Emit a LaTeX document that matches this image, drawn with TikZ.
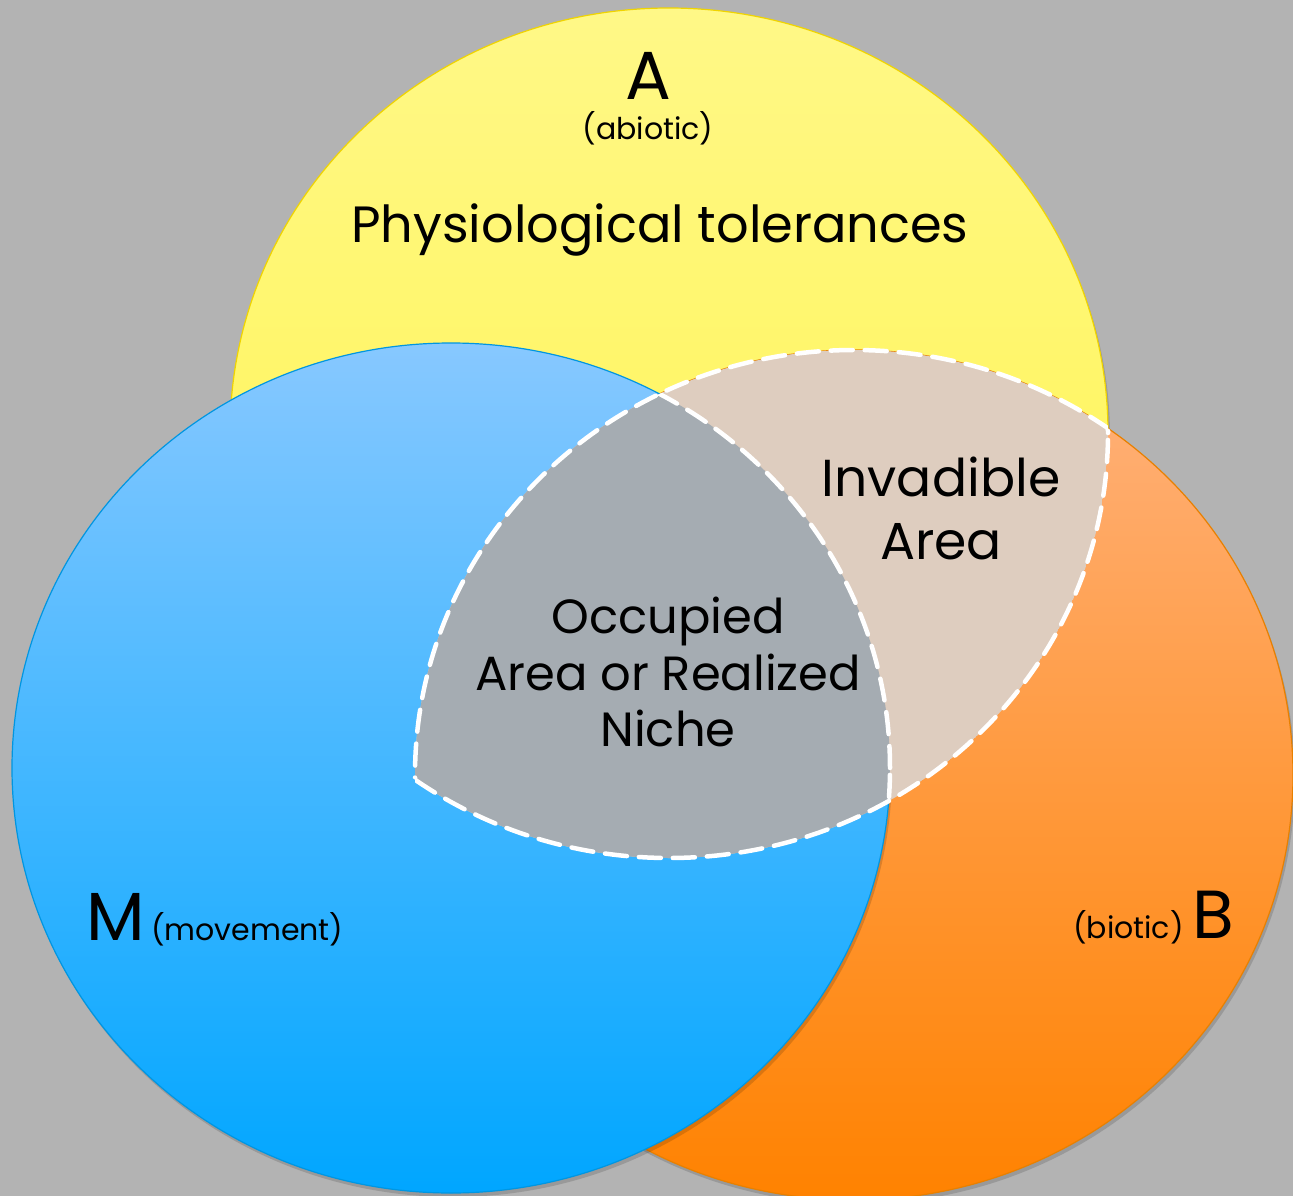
\documentclass[tikz,border=0pt]{standalone}
\usepackage{fontspec}
\setmainfont{Poppins}
\usetikzlibrary{positioning}
\definecolor{bggray}{RGB}{179,179,179}
\definecolor{yelT}{RGB}{255,248,135}
\definecolor{yelB}{RGB}{255,244,70}
\definecolor{yelE}{RGB}{240,212,0}
\definecolor{bluT}{RGB}{135,200,255}
\definecolor{bluB}{RGB}{0,166,255}
\definecolor{bluE}{RGB}{0,150,225}
\definecolor{oraT}{RGB}{255,178,125}
\definecolor{oraB}{RGB}{255,130,0}
\definecolor{oraE}{RGB}{232,128,0}
\definecolor{tanfill}{RGB}{222,205,191}
\definecolor{nichefill}{RGB}{165,172,178}
\begin{document}
\begin{tikzpicture}[x=1pt,y=-1pt,
  rad/.style={x radius=439pt,y radius=425pt},
  shade/.style={black,opacity=0.14},
  dashline/.style={white,line width=4.5pt,dash pattern=on 22pt off 12pt,line cap=round},
  big/.style={font=\fontsize{68}{68}\selectfont,inner sep=0pt},
  small/.style={font=\fontsize{30}{32}\selectfont,inner sep=0pt},
  txt/.style={font=\fontsize{50}{57}\selectfont,align=center,inner sep=0pt}]
\useasboundingbox (0,0) rectangle (1293,1196);
\fill[bggray] (0,0) rectangle (1293,1196);
\coordinate (cA) at (669,433);
\coordinate (cB) at (854,775);
\coordinate (cM) at (451,768);
% the three sets
\fill[shade] ([shift={(2,4)}]cA) ellipse [rad];
\draw[yelE,line width=1.2pt,top color=yelT,bottom color=yelB] (cA) ellipse [rad];
\fill[shade] ([shift={(2,4)}]cB) ellipse [rad];
\draw[oraE,line width=1.2pt,top color=oraT,bottom color=oraB] (cB) ellipse [rad];
\fill[shade] ([shift={(2,4)}]cM) ellipse [rad];
\draw[bluE,line width=1.2pt,top color=bluT,bottom color=bluB] (cM) ellipse [rad];
% invadible and occupied areas
\begin{scope}
 \clip (cA) ellipse [rad];
 \clip (cB) ellipse [rad];
 \fill[tanfill] (cA) ellipse [rad];
 \clip (cM) ellipse [rad];
 \fill[nichefill] (0,0) rectangle (1293,1196);
\end{scope}
\begin{scope}
 \clip (cB) ellipse [rad];
 \draw[dashline] (cA) ellipse [rad];
\end{scope}
\begin{scope}
 \clip (cA) ellipse [rad];
 \draw[dashline] (cB) ellipse [rad];
\end{scope}
\begin{scope}
 \clip (cA) ellipse [rad];
 \clip (cB) ellipse [rad];
 \draw[dashline] (cM) ellipse [rad];
\end{scope}
% labels
\node[big] (lblA) at (648,76) {A};
\node[small,below=12pt of lblA] (abiotic) {(abiotic)};
\node[txt,font=\fontsize{51}{57}\selectfont,anchor=base] (physio) at (660,242) {Physiological tolerances};
\node[txt,font=\fontsize{52}{63}\selectfont] (invad) at (941,508) {Invadible\\Area};
\node[txt,font=\fontsize{48}{56.5}\selectfont] (occup) at (668,672) {Occupied\\Area or Realized\\Niche};
\node[big,anchor=base west] (lblM) at (86,940) {M};
\node[small,base right=6pt of lblM] (movement) {(movement)};
\node[big,anchor=base east] (lblB) at (1234,938) {B};
\node[small,base left=8pt of lblB] (biotic) {(biotic)};
\end{tikzpicture}
\end{document}
